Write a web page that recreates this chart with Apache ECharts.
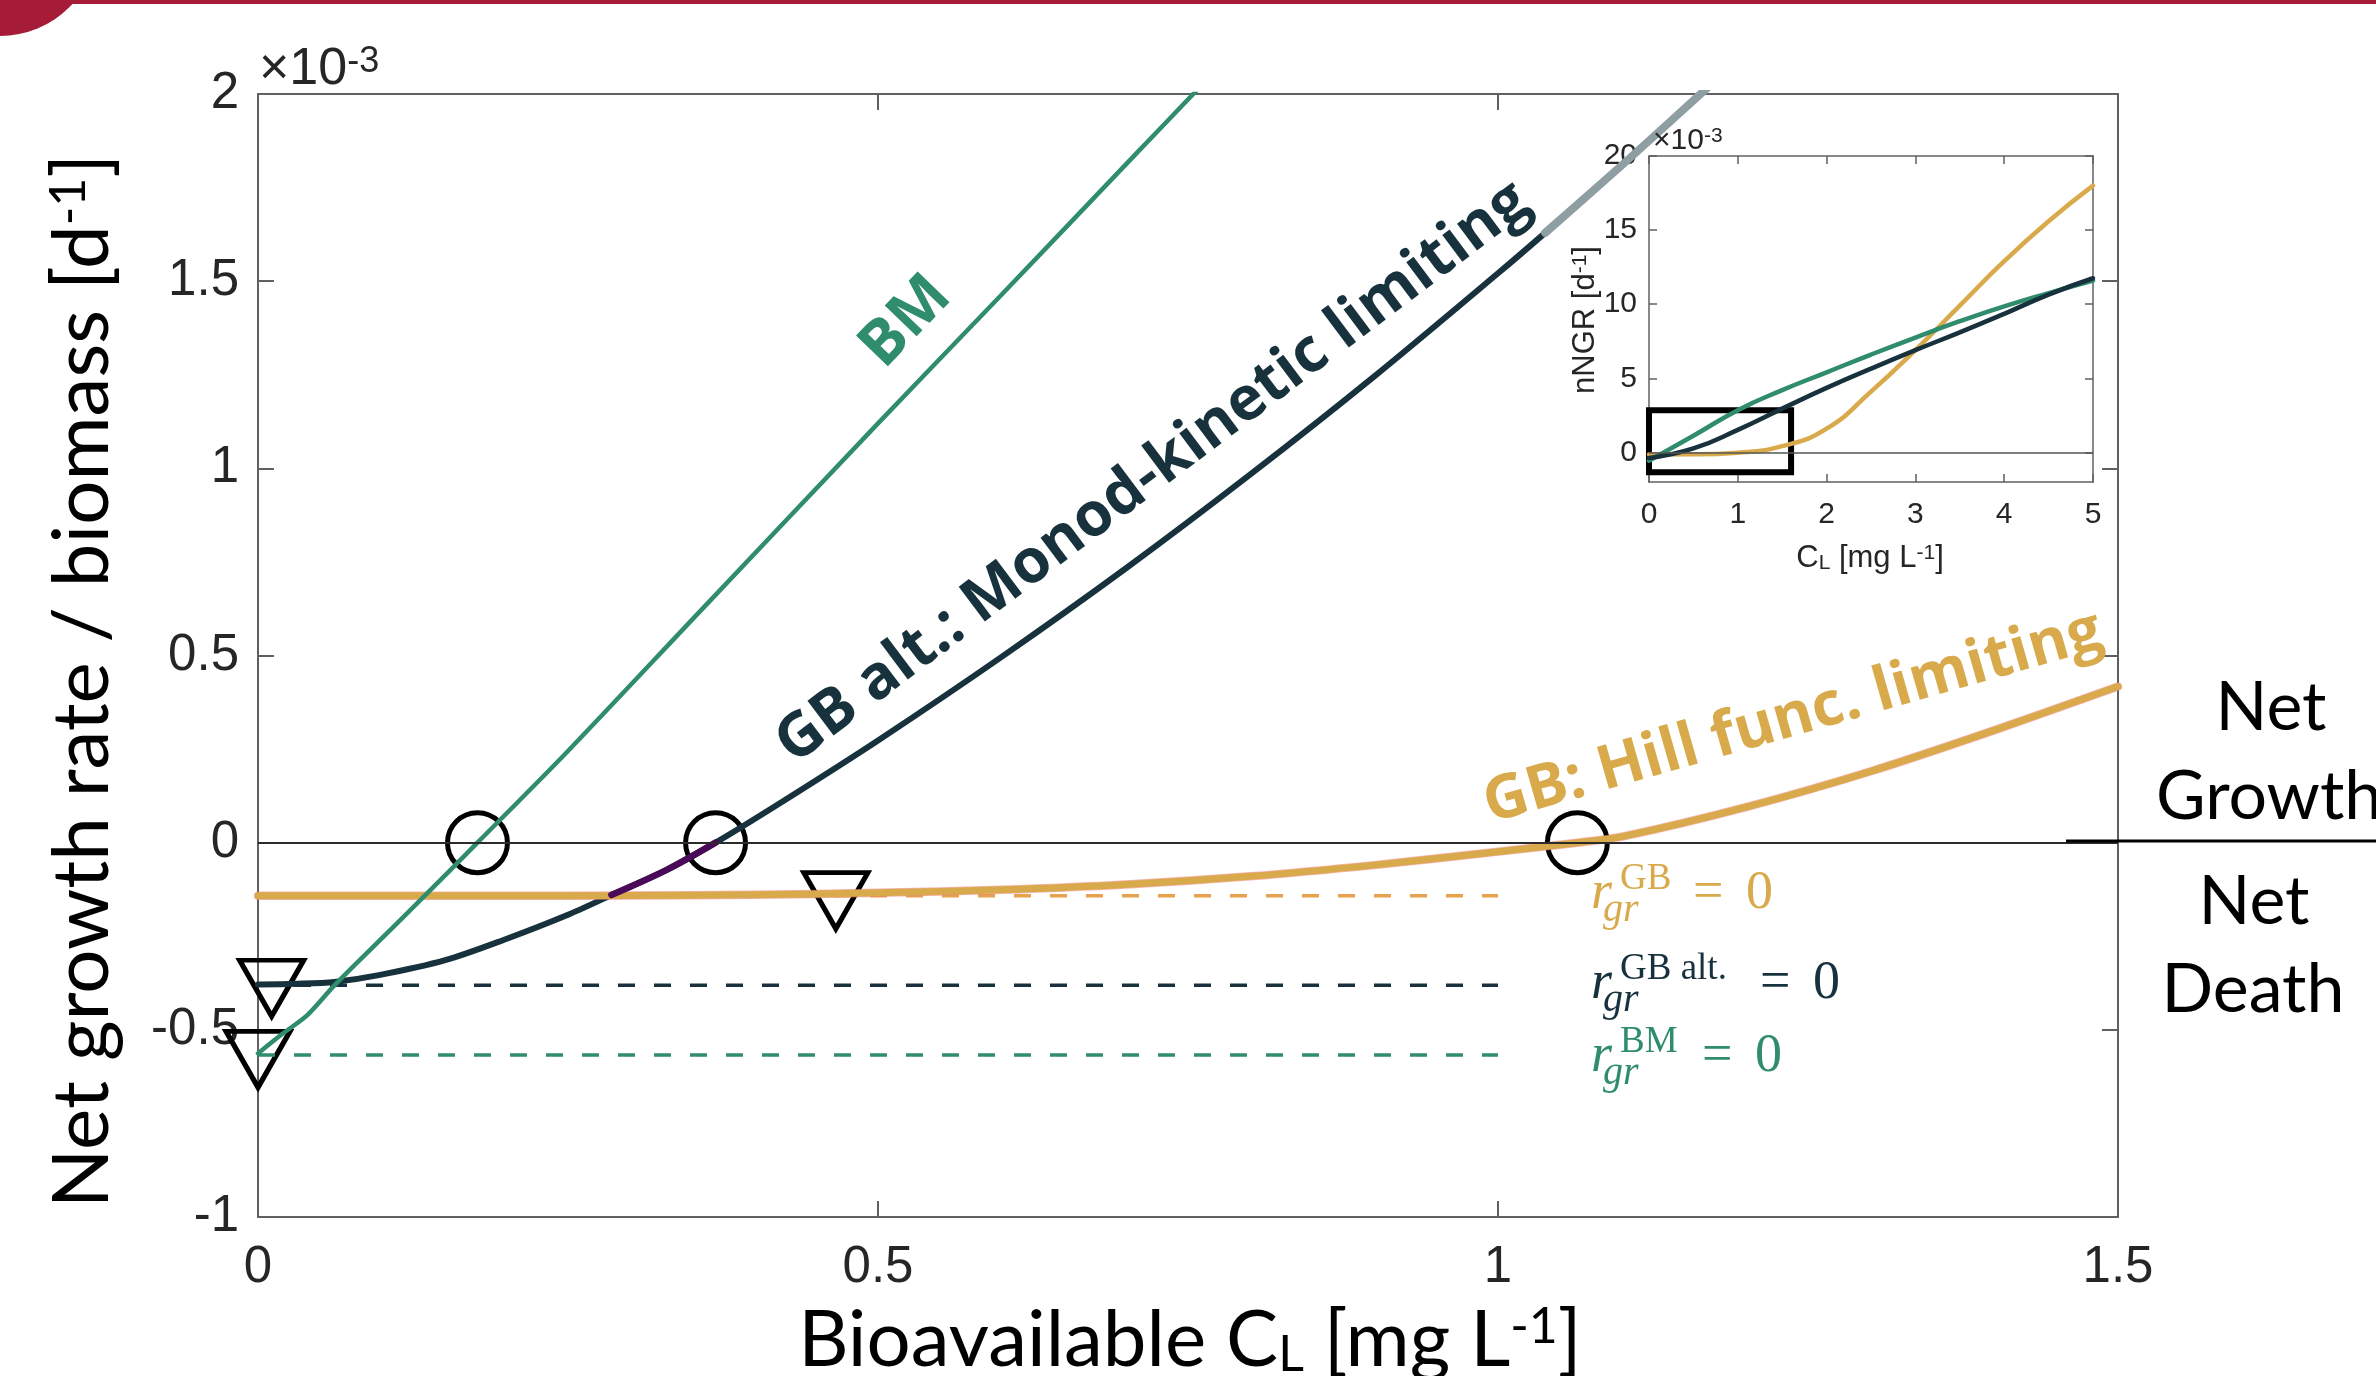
<!DOCTYPE html>
<html>
<head>
<meta charset="utf-8">
<script src="https://cdn.jsdelivr.net/npm/echarts@6/dist/echarts.min.js"></script>
<style>
html, body { margin: 0; padding: 0; background: #fff; }
#chart { width: 2376px; height: 1376px; }
</style>
</head>
<body>
<div id="chart"></div>
<script>
// main panel, net growth rate / biomass in units of 1e-3 d^-1
const bmX = [0, 0.02, 0.04, 0.062, 0.1, 0.1335, 0.177, 0.25, 0.357, 0.5, 0.6, 0.708, 0.76]
const bmY = [-0.563, -0.51, -0.46, -0.38, -0.255, -0.145, 0, 0.245, 0.62, 1.12, 1.465, 1.84, 2.02]

const altX = [0, 0.03, 0.0615, 0.0975, 0.151, 0.198, 0.249, 0.285, 0.33, 0.369, 0.425, 0.5, 0.6, 0.7, 0.8, 0.9, 1.0, 1.038, 1.1, 1.17]
const altY = [-0.379, -0.377, -0.372, -0.354, -0.314, -0.26, -0.194, -0.14, -0.072, 0, 0.114, 0.273, 0.497, 0.733, 0.983, 1.245, 1.521, 1.629, 1.81, 2.02]
const altPurple = [0.285, 0.369]   // segment drawn in purple
const altTailFrom = 1.038          // lighter grey continuation

const hillX = [0, 0.1, 0.2, 0.3, 0.4, 0.5, 0.6, 0.7, 0.8, 0.9, 1.0, 1.064, 1.1, 1.2, 1.3, 1.4, 1.5]
const hillY = [-0.142, -0.142, -0.142, -0.141, -0.139, -0.134, -0.126, -0.112, -0.09, -0.06, -0.024, 0, 0.016, 0.095, 0.19, 0.3, 0.417]

// r_gr = 0 levels (GB, GB alt., BM), dashed up to C = 1
const thrNames = ['GB', 'GB alt.', 'BM']
const thrY = [-0.142, -0.381, -0.567]
const thrEnd = 1.0

// markers
const zeroX = [0.177, 0.369, 1.064]
const triX = [0.011, 0, 0.466]
const triY = [-0.389, -0.579, -0.155]

// inset (nNGR, 1e-3 d^-1)
const insetX = [0, 0.5, 1, 1.5, 2, 2.5, 3, 3.5, 4, 4.5, 5]
const insetBM = [-0.56, 1.12, 2.85, 4.2, 5.4, 6.6, 7.75, 8.85, 9.85, 10.75, 11.6]
const insetAlt = [-0.38, 0.27, 1.52, 2.95, 4.35, 5.65, 6.9, 8.1, 9.35, 10.65, 11.75]
const insetHill = [-0.142, -0.134, -0.024, 0.417, 1.6, 4.1, 6.9, 9.9, 12.9, 15.6, 18.0]
const zoomBox = [0, -1.35, 1.6, 2.85]

const mainTicksX = [0, 1.5, 0.5]
const mainTicksY = [-1, 2, 0.5]
const insetTicksX = [0, 5, 1]
const insetTicksY = [0, 5, 10, 15, 20]

const cBM = '#2f8c6c'
const cAlt = '#17323d'
const cHill = '#d9aa4c'
const cPurple = '#4a0a57'
const cTail = '#8e9ea3'
const axisGrey = '#606060'
const labelGrey = '#262626'
const sansTick = 'Liberation Sans'

const pairs = (xs, ys) => xs.map((x, i) => [x, ys[i]])
const altPts = pairs(altX, altY)

const chart = echarts.init(document.getElementById('chart'))

function lineSeries(data, color, width, extra) {
  return Object.assign({
    type: 'line', data, showSymbol: false, symbol: 'none', smooth: 0.3,
    lineStyle: { color, width, cap: 'round', join: 'round' }, silent: true
  }, extra || {})
}

function dashed(y, color) {
  return lineSeries([[0, y], [thrEnd, y]], color, 3.5, {
    smooth: false, lineStyle: { color, width: 3.5, type: [17, 19] }
  })
}

function axisCommon(len, w) {
  return {
    axisLine: { onZero: false, lineStyle: { color: axisGrey, width: w } },
    axisTick: { inside: true, length: len, lineStyle: { color: axisGrey, width: w } },
    splitLine: { show: false }
  }
}

function txt(x, y, text, style, deg) {
  return {
    type: 'text', x, y, z: 100, rotation: (deg || 0) * Math.PI / 180,
    style: Object.assign({ text, align: 'center', verticalAlign: 'middle', textAlign: 'center', textVerticalAlign: 'middle' }, style)
  }
}

// r_gr^X = 0 labels
function rateLabel(sup, color, x0, base, eqX) {
  const serif = 'Liberation Serif'
  const left = { align: 'left', textAlign: 'left', fill: color, fontFamily: serif }
  return [
    txt(x0, base - 18, 'r', Object.assign({ fontStyle: 'italic', fontSize: 54 }, left)),
    txt(x0 + 29, base - 33, sup, Object.assign({ fontSize: 37 }, left)),
    txt(x0 + 12, base - 2, 'gr', Object.assign({ fontStyle: 'italic', fontSize: 40 }, left)),
    txt(eqX, base - 18, '=', Object.assign({ fontSize: 54 }, left)),
    txt(eqX + 53, base - 18, '0', Object.assign({ fontSize: 54 }, left))
  ]
}

const lato = 'Lato'
const labelFont = 'Open Sans'
const graphics = [
  { type: 'rect', shape: { x: 0, y: 0, width: 2376, height: 4 }, style: { fill: '#a51b38' }, z: 100 },
  { type: 'circle', shape: { cx: 0, cy: -62, r: 98 }, style: { fill: '#a51b38' }, z: 100 },
  { type: 'line', shape: { x1: 2066, y1: 841, x2: 2376, y2: 841 }, style: { stroke: '#000', lineWidth: 3 }, z: 100 },
  txt(906, 322, 'BM', { fontFamily: labelFont, fontWeight: 'bold', fontSize: 62, fill: cBM }, 46),
  txt(1153, 473, 'GB alt.: Monod-kinetic limiting', { fontFamily: labelFont, fontWeight: 'bold', fontSize: 61, fill: cAlt }, 37),
  txt(1793, 718, 'GB: Hill func. limiting', { fontFamily: labelFont, fontWeight: 'bold', fontSize: 61, fill: cHill }, 16),
  txt(2271, 708, 'Net', { fontFamily: lato, fontSize: 68, fill: '#000' }),
  txt(2156, 797, 'Growth', { fontFamily: lato, fontSize: 68, fill: '#000', align: 'left', textAlign: 'left' }),
  txt(2254, 902, 'Net', { fontFamily: lato, fontSize: 68, fill: '#000' }),
  txt(2253, 990, 'Death', { fontFamily: lato, fontSize: 68, fill: '#000' }),
  txt(83, 681, '{t|Net growth rate / biomass [d}{s|-1}{t|]}', {
    rich: {
      t: { fontFamily: lato, fontSize: 78, fill: '#000', color: '#000' },
      s: { fontFamily: lato, fontSize: 50, fill: '#000', color: '#000', verticalAlign: 'top' }
    }
  }, 90),
  txt(1190, 1341, '{t|Bioavailable C}{b|L}{t| [mg L}{s|-1}{t|]}', {
    rich: {
      t: { fontFamily: lato, fontSize: 78, fill: '#000', color: '#000' },
      b: { fontFamily: lato, fontSize: 50, fill: '#000', color: '#000', verticalAlign: 'bottom', lineHeight: 50 },
      s: { fontFamily: lato, fontSize: 50, fill: '#000', color: '#000', verticalAlign: 'top' }
    }
  }),
  txt(259, 70, '{t|×10}{s|-3}', {
    align: 'left', textAlign: 'left',
    rich: {
      t: { fontFamily: sansTick, fontSize: 52, fill: labelGrey, color: labelGrey },
      s: { fontFamily: sansTick, fontSize: 36, fill: labelGrey, color: labelGrey, verticalAlign: 'top' }
    }
  }),
  txt(1653, 141, '{t|×10}{s|-3}', {
    align: 'left', textAlign: 'left',
    rich: {
      t: { fontFamily: sansTick, fontSize: 30, fill: labelGrey, color: labelGrey },
      s: { fontFamily: sansTick, fontSize: 21, fill: labelGrey, color: labelGrey, verticalAlign: 'top' }
    }
  }),
  txt(1585, 320, '{t|nNGR [d}{s|-1}{t|]}', {
    rich: {
      t: { fontFamily: sansTick, fontSize: 31, fill: labelGrey, color: labelGrey },
      s: { fontFamily: sansTick, fontSize: 21, fill: labelGrey, color: labelGrey, verticalAlign: 'top' }
    }
  }, 90),
  txt(1870, 558, '{t|C}{b|L}{t| [mg L}{s|-1}{t|]}', {
    rich: {
      t: { fontFamily: sansTick, fontSize: 31, fill: labelGrey, color: labelGrey },
      b: { fontFamily: sansTick, fontSize: 21, fill: labelGrey, color: labelGrey, verticalAlign: 'bottom' },
      s: { fontFamily: sansTick, fontSize: 21, fill: labelGrey, color: labelGrey, verticalAlign: 'top' }
    }
  })
].concat(
  rateLabel(thrNames[0], cHill, 1591, 912, 1693),
  rateLabel(thrNames[1], cAlt, 1591, 1002, 1760),
  rateLabel(thrNames[2], cBM, 1591, 1075, 1702)
)

const markerStyle = { color: 'rgba(0,0,0,0)', borderColor: '#000', borderWidth: 5, opacity: 1 }

const option = {
  animation: false,
  backgroundColor: '#fff',
  grid: [
    { left: 258, top: 94, width: 1860, height: 1123, show: false, outerBoundsMode: 'none' },
    { left: 1649, top: 156, width: 444, height: 326, show: true, backgroundColor: '#fff', borderWidth: 0, outerBoundsMode: 'none' }
  ],
  xAxis: [
    Object.assign({ gridIndex: 0, type: 'value', position: 'bottom', min: mainTicksX[0], max: mainTicksX[1], interval: mainTicksX[2],
      axisLabel: { fontFamily: sansTick, fontSize: 51, color: labelGrey, margin: 25 } }, axisCommon(16, 2)),
    Object.assign({ gridIndex: 0, type: 'value', position: 'top', min: mainTicksX[0], max: mainTicksX[1], interval: mainTicksX[2],
      axisLabel: { show: false } }, axisCommon(16, 2)),
    Object.assign({ gridIndex: 1, type: 'value', position: 'bottom', min: insetTicksX[0], max: insetTicksX[1], interval: insetTicksX[2],
      axisLabel: { fontFamily: sansTick, fontSize: 30, color: labelGrey, margin: 18 } }, axisCommon(8, 1.5)),
    Object.assign({ gridIndex: 1, type: 'value', position: 'top', min: insetTicksX[0], max: insetTicksX[1], interval: insetTicksX[2],
      axisLabel: { show: false } }, axisCommon(8, 1.5))
  ],
  yAxis: [
    Object.assign({ gridIndex: 0, type: 'value', position: 'left', min: mainTicksY[0], max: mainTicksY[1], interval: mainTicksY[2],
      axisLabel: { fontFamily: sansTick, fontSize: 51, color: labelGrey, margin: 19 } }, axisCommon(16, 2)),
    Object.assign({ gridIndex: 0, type: 'value', position: 'right', min: mainTicksY[0], max: mainTicksY[1], interval: mainTicksY[2],
      axisLabel: { show: false } }, axisCommon(16, 2)),
    (() => {
      const a = Object.assign({ gridIndex: 1, type: 'value', position: 'left', min: -2, max: 20,
        axisLabel: { fontFamily: sansTick, fontSize: 30, color: labelGrey, margin: 12, customValues: insetTicksY } }, axisCommon(8, 1.5))
      a.axisTick.customValues = insetTicksY
      return a
    })(),
    (() => {
      const a = Object.assign({ gridIndex: 1, type: 'value', position: 'right', min: -2, max: 20,
        axisLabel: { show: false } }, axisCommon(8, 1.5))
      a.axisTick.customValues = insetTicksY
      return a
    })()
  ],
  graphic: { elements: graphics },
  series: [
    // dashed r_gr = 0 levels; the first one also carries the zero line
    Object.assign(dashed(thrY[0], '#e6a24e'), {
      markLine: { silent: true, symbol: 'none', label: { show: false }, animation: false,
        lineStyle: { color: '#2b2b2b', width: 2, type: 'solid' }, data: [{ yAxis: 0 }] }
    }),
    dashed(thrY[1], cAlt),
    dashed(thrY[2], cBM),
    lineSeries(altPts, cAlt, 6),
    lineSeries(pairs(hillX, hillY), 'rgba(240,120,120,0.55)', 8.5),
    lineSeries(pairs(hillX, hillY), cHill, 7),
    lineSeries(altPts.filter(p => p[0] >= altPurple[0] && p[0] <= altPurple[1]), cPurple, 6.5),
    lineSeries(altPts.filter(p => p[0] >= altTailFrom), cTail, 8),
    lineSeries(pairs(bmX, bmY), cBM, 4.5),
    {
      type: 'scatter', clip: false, silent: true, data: zeroX.map(x => [x, 0]),
      symbol: 'circle', symbolSize: 60, itemStyle: markerStyle
    },
    {
      type: 'scatter', clip: false, silent: true, data: pairs(triX, triY),
      symbol: 'triangle', symbolRotate: 180, symbolSize: [64, 56], itemStyle: markerStyle
    },
    // inset
    lineSeries(pairs(insetX, insetHill), cHill, 4.5, {
      xAxisIndex: 2, yAxisIndex: 2, smooth: true,
      markLine: { silent: true, symbol: 'none', label: { show: false }, animation: false,
        lineStyle: { color: '#555', width: 1.5, type: 'solid' }, data: [{ yAxis: 0 }] }
    }),
    lineSeries(pairs(insetX, insetBM), cBM, 4.5, { xAxisIndex: 2, yAxisIndex: 2, smooth: true }),
    lineSeries(pairs(insetX, insetAlt), cAlt, 4.5, {
      xAxisIndex: 2, yAxisIndex: 2, smooth: true,
      markArea: { silent: true, label: { show: false },
        itemStyle: { color: 'rgba(0,0,0,0)', borderColor: '#000', borderWidth: 6 },
        data: [[{ coord: [zoomBox[0], zoomBox[1]] }, { coord: [zoomBox[2], zoomBox[3]] }]] }
    })
  ]
}

chart.setOption(option)
</script>
</body>
</html>
